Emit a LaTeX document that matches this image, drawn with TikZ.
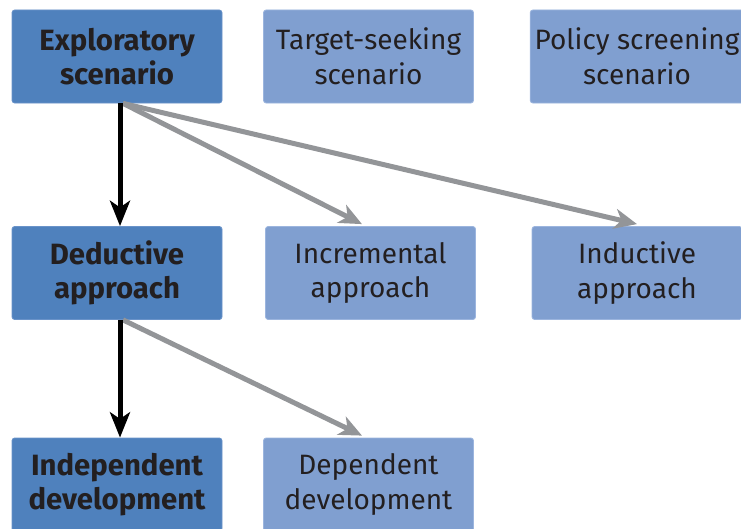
\documentclass[tikz,border=0pt]{standalone}
\usepackage{fontspec}
\setmainfont{Fira Sans}
\usetikzlibrary{arrows.meta}
\definecolor{darkbox}{HTML}{4F81BD}
\definecolor{lightbox}{HTML}{809FD0}
\definecolor{lightedge}{HTML}{9CB5DE}
\definecolor{darkedge}{HTML}{6A93C9}
\definecolor{boxtext}{HTML}{231F20}
\definecolor{linkgray}{HTML}{939598}
\tikzset{
  chosen/.style={draw=darkedge, fill=darkbox, rounded corners=2pt, line width=0.6pt,
    minimum width=157.5pt, minimum height=69.75pt, align=center, text=boxtext,
    font=\fontsize{22}{26}\selectfont\bfseries},
  other/.style={chosen, draw=lightedge, fill=lightbox,
    font=\fontsize{21}{26}\selectfont},
  mainlink/.style={line width=3.75pt, black, -{Stealth[length=19pt, width=15pt, inset=5pt]}},
  sidelink/.style={line width=3.75pt, linkgray, -{Stealth[length=17pt, width=15pt, inset=5pt]}}
}

\begin{document}
\begin{tikzpicture}[x=0.75pt, y=-0.75pt]
\clip (0,0) rectangle (741,528);
\useasboundingbox (0,0) rectangle (741,528);
% row 1 of boxes
\node[chosen] (expl) at (117,56.5) {Exploratory\\scenario};
\node[other] (targ) at (368.5,56.5) {Target-seeking\\scenario};
\node[other] (poli) at (637,56.5) {Policy screening\\scenario};
% row 2 of boxes
\node[chosen] (dedu) at (117,273) {Deductive\\approach};
\node[other] (incr) at (370.5,273) {Incremental\\approach};
\node[other] (indu) at (637,273) {Inductive\\approach};
% row 3 of boxes
\node[chosen] (inde) at (117,484.5) {Independent\\development};
\node[other] (depe) at (368.5,484.5) {Dependent\\development};
% links
\draw[sidelink] ([xshift=4.5pt]expl.south) -- ([xshift=-6.4pt,yshift=1.5pt]incr.north);
\draw[sidelink] ([xshift=4.5pt]expl.south) -- ([yshift=1.5pt]indu.north);
\draw[sidelink] ([xshift=4.5pt]dedu.south) -- ([xshift=-4.9pt,yshift=1.5pt]depe.north);
\draw[mainlink] ([xshift=2.25pt]expl.south) -- ([xshift=2.25pt]dedu.north);
\draw[mainlink] ([xshift=2.25pt]dedu.south) -- ([xshift=2.25pt]inde.north);
\end{tikzpicture}
\end{document}
